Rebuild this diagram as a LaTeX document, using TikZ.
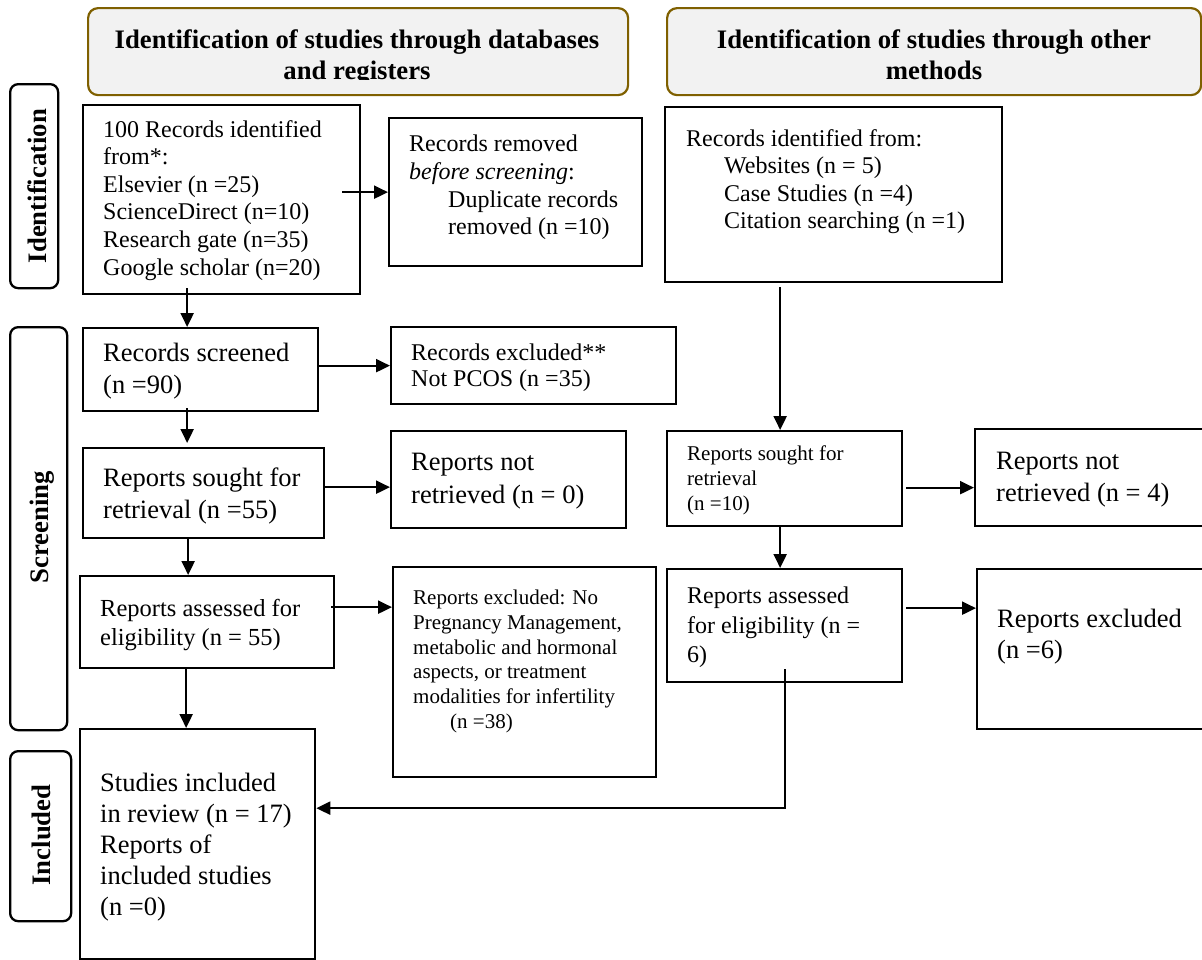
\documentclass[tikz,border=0pt]{standalone}
\usepackage{fontspec}
\setmainfont{Liberation Serif}
\usetikzlibrary{arrows.meta}
\definecolor{headfill}{HTML}{F2F2F2}
\definecolor{headline}{HTML}{7F6000}
\newcommand{\fs}[2]{\fontsize{#1}{#2}\selectfont}
\tikzset{
  recbox/.style={draw, line width=2.3pt, anchor=north west, inner sep=0pt},
  rectext/.style={anchor=north west, align=left, inner sep=0pt},
  headbox/.style={draw=headline, fill=headfill, line width=2.2pt, rounded corners=10pt, anchor=north west, inner sep=0pt},
  headtext/.style={anchor=north, align=center, inner sep=0pt, font=\bfseries\fs{26.7}{31}},
  phasebox/.style={draw, line width=2.3pt, rounded corners=8pt, anchor=north west, inner sep=0pt},
  phasetext/.style={rotate=90, anchor=base, inner sep=0pt, font=\bfseries\fs{26.7}{30}},
  flow/.style={-{Triangle[length=14pt,width=13pt]}, line width=2.2pt}
}
\begin{document}
\begin{tikzpicture}[x=1pt, y=-1pt]
\useasboundingbox (0,0) rectangle (1202,959);
\node[headbox, minimum width=540pt, minimum height=87pt] (headdb) at (87,7) {};
\node[headbox, minimum width=534pt, minimum height=87pt] (headoth) at (666,7) {};
\begin{scope}
\clip (80,0) rectangle (1202,79.5);
\node[headtext] (headdbt) at (357,29.5) {Identification of studies through databases\\and registers};
\node[headtext] (headotht) at (934,29.5) {Identification of studies through other\\methods};
\end{scope}

\node[phasebox, minimum width=48pt, minimum height=204pt] (phid) at (9,83) {};
\node[phasebox, minimum width=57pt, minimum height=403pt] (phscr) at (9,326) {};
\node[phasebox, minimum width=61pt, minimum height=170pt] (phinc) at (9,750) {};
\node[phasetext] (phidt) at (46,186) {Identification};
\node[phasetext] (phscrt) at (48,527) {Screening};
\node[phasetext] (phinct) at (50.5,835) {Included};

\node[recbox, minimum width=277pt, minimum height=189pt] (ident) at (82,104) {};
\node[recbox, minimum width=253pt, minimum height=148pt] (removed) at (388,117) {};
\node[recbox, minimum width=235pt, minimum height=83pt] (screened) at (82,327) {};
\node[recbox, minimum width=285pt, minimum height=77pt] (excluded) at (390,326) {};
\node[recbox, minimum width=241pt, minimum height=90pt] (sought) at (82,447) {};
\node[recbox, minimum width=235pt, minimum height=97pt] (notret) at (390,430) {};
\node[recbox, minimum width=254pt, minimum height=92pt] (assessed) at (79,575) {};
\node[recbox, minimum width=263pt, minimum height=210pt] (repexcl) at (392,566) {};
\node[recbox, minimum width=235pt, minimum height=230pt] (included) at (79,728) {};
\node[recbox, minimum width=337pt, minimum height=175pt] (identoth) at (664,106) {};
\node[recbox, minimum width=235pt, minimum height=95pt] (soughtoth) at (666,430) {};
\node[recbox, minimum width=231pt, minimum height=97pt] (notretoth) at (974,428) {};
\node[recbox, minimum width=235pt, minimum height=113pt] (assessedoth) at (666,568) {};
\node[recbox, minimum width=229pt, minimum height=160pt] (repexcloth) at (976,568) {};

\node[rectext, font=\fs{24}{27.6}] (identt) at (103,120) {100 Records identified\\from*:\\Elsevier (n =25)\\ScienceDirect (n=10)\\Research gate (n=35)\\Google scholar (n=20)};
\node[rectext, font=\fs{24}{27.7}] (removedt) at (409,135) {Records removed\\\textit{before screening}:\\\hspace*{39pt}Duplicate records\\\hspace*{39pt}removed (n =10)};
\node[rectext, font=\fs{26.5}{32}] (screenedt) at (103,343) {Records screened\\(n =90)};
\node[rectext, font=\fs{24}{26}] (excludedt) at (411,344) {Records excluded**\\Not PCOS (n =35)};
\node[rectext, font=\fs{26.5}{32}] (soughtt) at (103,468) {Reports sought for\\retrieval (n =55)};
\node[rectext, font=\fs{26.5}{33}] (notrett) at (411,453) {Reports not\\retrieved (n = 0)};
\node[rectext, font=\fs{24.5}{29}] (assessedt) at (100,599) {Reports assessed for\\eligibility (n = 55)};
\node[rectext, font=\fs{21}{24.7}] (repexclt) at (413,590) {Reports excluded: No\\Pregnancy Management,\\metabolic and hormonal\\aspects, or treatment\\modalities for infertility\\\hspace*{37pt}(n =38)};
\node[rectext, font=\fs{26.5}{31}] (includedt) at (100,773) {Studies included\\in review (n = 17)\\Reports of\\included studies\\(n =0)};
\node[rectext, font=\fs{24}{27.5}] (identotht) at (686,129) {Records identified from:\\\hspace*{38pt}Websites (n = 5)\\\hspace*{38pt}Case Studies (n =4)\\\hspace*{38pt}Citation searching (n =1)};
\node[rectext, font=\fs{21}{25}] (soughtotht) at (687,446) {Reports sought for\\retrieval\\(n =10)};
\node[rectext, font=\fs{26.5}{32}] (notretotht) at (996,452) {Reports not\\retrieved (n = 4)};
\node[rectext, font=\fs{24}{29.5}] (assessedotht) at (687,587) {Reports assessed\\for eligibility (n =\\6)};
\node[rectext, font=\fs{26.5}{31}] (repexclotht) at (997,609) {Reports excluded\\(n =6)};

\draw[flow] ([xshift=-19pt]ident.east |- removed.west) -- (removed.west);
\draw[flow] ([xshift=-13.5pt,yshift=7pt]screened.north |- ident.south) -- ([xshift=-13.5pt]screened.north);
\draw[flow] (screened.east |- excluded.west) -- (excluded.west);
\draw[flow] ([xshift=-13.5pt,yshift=4pt]screened.south) -- ([xshift=-13.5pt,yshift=4pt]screened.south |- sought.north);
\draw[flow] ([yshift=-7.5pt]notret.west -| sought.east) -- ([yshift=-7.5pt]notret.west);
\draw[flow] ([xshift=-15.5pt]sought.south) -- ([xshift=-15.5pt]sought.south |- assessed.north);
\draw[flow] ([xshift=-4pt,yshift=15pt]assessed.east) -- ([yshift=15pt]assessed.east -| repexcl.west);
\draw[flow] ([xshift=-21pt]assessed.south) -- ([xshift=-21pt]assessed.south |- included.north);
\draw[flow] ([xshift=-4.5pt,yshift=-4pt]soughtoth.north |- identoth.south) -- ([xshift=-4.5pt]soughtoth.north);
\draw[flow] ([xshift=3pt,yshift=-9pt]soughtoth.east) -- ([yshift=-9pt]soughtoth.east -| notretoth.west);
\draw[flow] ([xshift=-4.5pt]soughtoth.south) -- ([xshift=-4.5pt]soughtoth.south |- assessedoth.north);
\draw[flow] ([xshift=3pt,yshift=17.5pt]assessedoth.east) -- ([yshift=17.5pt]assessedoth.east -| repexcloth.west);
\draw[flow] ([yshift=14pt]assessedoth.south) |- ([yshift=36pt]included.east);
\end{tikzpicture}
\end{document}
